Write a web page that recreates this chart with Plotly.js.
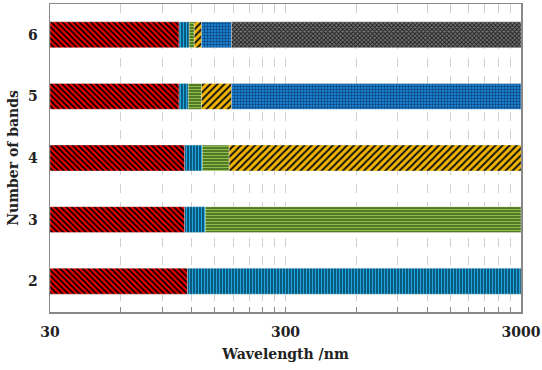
<!DOCTYPE html>
<html>
<head>
<meta charset="utf-8">
<script src="https://cdn.plot.ly/plotly-3.0.1.min.js"></script>
<style>html,body{margin:0;padding:0;background:#fff;}#chart{width:542px;height:370px;}</style>
</head>
<body>
<div id="chart"></div>
<script>
// Band counts (y categories)
const rows = [2, 3, 4, 5, 6];
// Band edges (nm) for each configuration
const edges2 = [30, 115, 3000];
const edges3 = [30, 112, 137, 3000];
const edges4 = [30, 112, 133, 173, 3000];
const edges5 = [30, 106, 116, 132, 177, 3000];
const edges6 = [30, 106, 117, 123, 132, 177, 3000];
const allEdges = [edges2, edges3, edges4, edges5, edges6];
// Band names in order from short to long wavelength
const bandNames = ['band1', 'band2', 'band3', 'band4', 'band5', 'band6'];
// Tick values (multiples of 30) and labels
const tickVals = [30, 60, 90, 120, 150, 180, 210, 240, 270, 300, 600, 900, 1200, 1500, 1800, 2100, 2400, 2700, 3000];
const tickText = tickVals.map(v => (v === 30 || v === 300 || v === 3000) ? String(v) : '');

const styles = [
  {bg: '#f00000', fg: '#000000', shape: '\\', size: 4, sol: 0.45},
  {bg: '#0a5a7e', fg: '#1ea6e2', shape: '|', size: 3, sol: 0.35},
  {bg: '#4a6a20', fg: '#8cc04c', shape: '-', size: 3, sol: 0.45},
  {bg: '#f2b600', fg: '#111111', shape: '/', size: 5, sol: 0.4},
  {bg: '#1b7ccc', fg: '#0a3560', shape: '+', size: 3, sol: 0.3},
  {bg: '#777777', fg: '#1a1a1a', shape: 'x', size: 3, sol: 0.5}
];

const traces = bandNames.map((name, k) => {
  const ys = [], bases = [], lens = [];
  rows.forEach((r, i) => {
    const e = allEdges[i];
    if (k < e.length - 1) {
      ys.push(r);
      bases.push(e[k]);
      lens.push(e[k + 1] - e[k]);
    }
  });
  const s = styles[k];
  return {
    type: 'bar', orientation: 'h', name: name,
    y: ys, x: lens, base: bases, width: 0.42,
    marker: {
      color: s.bg,
      line: {width: 0.6, color: 'rgba(255,255,255,0.5)'},
      pattern: {shape: s.shape, fgcolor: s.fg, bgcolor: s.bg, size: s.size, solidity: s.sol, fillmode: 'replace'}
    },
    hoverinfo: 'skip', showlegend: false
  };
});

const layout = {
  width: 542, height: 370,
  margin: {l: 50, r: 21, t: 4, b: 58},
  paper_bgcolor: '#fff', plot_bgcolor: '#fff',
  barmode: 'overlay',
  showlegend: false,
  xaxis: {
    type: 'log', range: [Math.log10(30), Math.log10(3000)],
    tickvals: tickVals, ticktext: tickText,
    ticks: 'inside', ticklen: 5, tickcolor: '#888',
    showgrid: true, gridcolor: '#d0d0d0', griddash: 'dash', gridwidth: 1,
    showline: true, linecolor: '#888', linewidth: 1.5, mirror: true,
    zeroline: false,
    ticklabelstandoff: 7,
    tickfont: {family: 'DejaVu Serif, serif', size: 14, color: '#222', weight: 'bold'},
    title: {text: '<b>Wavelength /nm</b>', font: {family: 'DejaVu Serif, serif', size: 14, color: '#222'}, standoff: 10}
  },
  yaxis: {
    range: [1.5, 6.5], tickvals: rows, ticktext: rows.map(String),
    ticks: '', showgrid: false, zeroline: false,
    showline: true, linecolor: '#888', linewidth: 1.5, mirror: true,
    tickfont: {family: 'DejaVu Serif, serif', size: 14, color: '#222', weight: 'bold'},
    ticklabelstandoff: 8,
    title: {text: '<b>Number of bands</b>', font: {family: 'DejaVu Serif, serif', size: 14, color: '#222'}, standoff: 6}
  }
};

Plotly.newPlot('chart', traces, layout, {staticPlot: true, displayModeBar: false});
</script>
</body>
</html>
